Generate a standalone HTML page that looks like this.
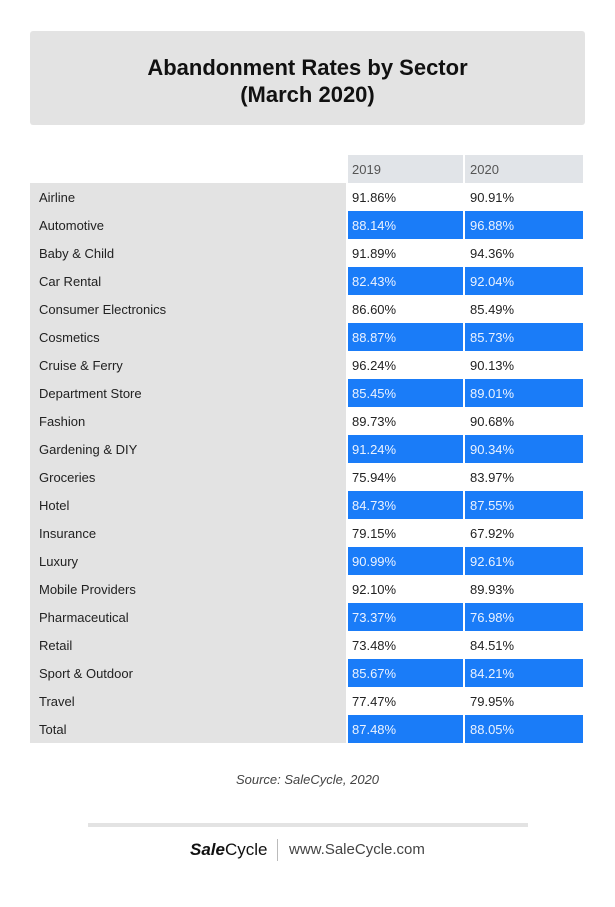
<!DOCTYPE html>
<html><head><style>
body{margin:0;width:615px;height:907px;background:#fff;font-family:"Liberation Sans",sans-serif;position:relative;overflow:hidden}
.title{position:absolute;left:30px;top:31px;width:555px;height:94px;background:#e3e3e3;border-radius:3px;text-align:center;font-weight:bold;font-size:22px;line-height:27px;color:#111;box-sizing:border-box;padding-top:23px}
.lab{position:absolute;left:30px;top:183px;width:316px;height:560px;background:#e3e3e3}
.c{position:absolute;height:28px;line-height:29px;font-size:13px;color:#222;box-sizing:border-box}
.h{background:#e1e4e8;color:#555}
.b{background:#1a7cf8;color:#eaf2ff}
</style></head><body>
<div class="title">Abandonment Rates by Sector<br>(March 2020)</div>
<div class="lab"></div>
<div class="c h" style="left:348px;top:155px;width:115px;padding-left:4px">2019</div>
<div class="c h" style="left:465px;top:155px;width:118px;padding-left:5px">2020</div>
<div id="rows"></div>
<script>
var d=[["Airline","91.86%","90.91%"],["Automotive","88.14%","96.88%"],["Baby & Child","91.89%","94.36%"],["Car Rental","82.43%","92.04%"],["Consumer Electronics","86.60%","85.49%"],["Cosmetics","88.87%","85.73%"],["Cruise & Ferry","96.24%","90.13%"],["Department Store","85.45%","89.01%"],["Fashion","89.73%","90.68%"],["Gardening & DIY","91.24%","90.34%"],["Groceries","75.94%","83.97%"],["Hotel","84.73%","87.55%"],["Insurance","79.15%","67.92%"],["Luxury","90.99%","92.61%"],["Mobile Providers","92.10%","89.93%"],["Pharmaceutical","73.37%","76.98%"],["Retail","73.48%","84.51%"],["Sport & Outdoor","85.67%","84.21%"],["Travel","77.47%","79.95%"],["Total","87.48%","88.05%"]];
var h="";
d.forEach(function(r,i){var t=183+i*28;var cl=i%2?"c b":"c";
h+='<div class="c" style="left:39px;top:'+t+'px">'+r[0].replace("&","&amp;")+'</div>';
h+='<div class="'+cl+'" style="left:348px;top:'+t+'px;width:115px;padding-left:4px">'+r[1]+'</div>';
h+='<div class="'+cl+'" style="left:465px;top:'+t+'px;width:118px;padding-left:5px">'+r[2]+'</div>';});
document.getElementById("rows").innerHTML=h;
</script>
<div style="position:absolute;left:0;width:615px;top:772px;text-align:center;font-style:italic;font-size:13px;color:#444">Source: SaleCycle, 2020</div>
<div style="position:absolute;left:88px;top:823px;width:440px;height:4px;background:#e3e3e3"></div>
<div style="position:absolute;left:190px;top:840px;font-size:17px;color:#111;line-height:20px"><b><i>Sale</i></b>Cycle</div>
<div style="position:absolute;left:277px;top:839px;width:1px;height:22px;background:#bbb"></div>
<div style="position:absolute;left:289px;top:841px;font-size:15px;color:#444;line-height:18px">www.SaleCycle.com</div>
</body></html>
